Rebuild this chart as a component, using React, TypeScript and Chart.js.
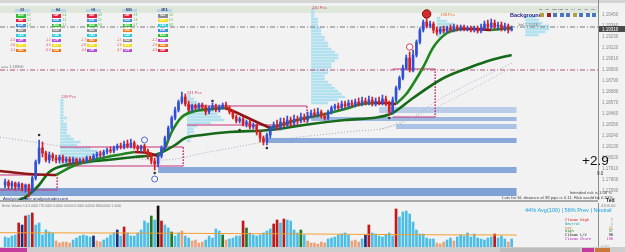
import React, { useEffect, useRef } from "react";
import { Chart, registerables } from "chart.js";

Chart.register(...registerables);

// ---------------- DATA ----------------
const opens = [
  1.1775, 1.1778, 1.1774, 1.1777, 1.1773, 1.1776, 1.1772, 1.1775, 1.1769, 1.1782,
  1.1798, 1.1812, 1.1807, 1.18, 1.1805, 1.1802, 1.18, 1.1803, 1.1799, 1.1801,
  1.1798, 1.1801, 1.1798, 1.18, 1.1799, 1.1802, 1.1801, 1.1804, 1.1806, 1.1805,
  1.1808, 1.181, 1.1809, 1.1812, 1.1814, 1.1813, 1.1816, 1.1814, 1.1817, 1.1813,
  1.1811, 1.1814, 1.1809, 1.1804, 1.1799, 1.1796, 1.1804, 1.1812, 1.1822, 1.1832,
  1.1842, 1.185, 1.1858, 1.1863, 1.1856, 1.185, 1.1854, 1.1852, 1.1855, 1.1853,
  1.1848, 1.1852, 1.1854, 1.185, 1.1853, 1.1855, 1.1852, 1.1848, 1.1843, 1.1839,
  1.1841, 1.1836, 1.1838, 1.1833, 1.1835, 1.1828, 1.1822, 1.1818, 1.1825, 1.1832,
  1.1835, 1.1832, 1.1838, 1.1835, 1.184, 1.1837, 1.1841, 1.1839, 1.1843, 1.184,
  1.1844, 1.1847, 1.1845, 1.1848, 1.1844, 1.1842, 1.1848, 1.1852, 1.1854, 1.1852,
  1.1856, 1.1854, 1.1857, 1.1855, 1.1858, 1.1856, 1.1859, 1.1857, 1.186, 1.1856,
  1.1859, 1.1857, 1.1861, 1.1856, 1.1848, 1.186, 1.1872, 1.1882, 1.1892, 1.1902,
  1.189, 1.1905, 1.1918, 1.193, 1.1938, 1.1934, 1.1936, 1.193, 1.1928, 1.1931,
  1.1929, 1.1932, 1.193, 1.1933, 1.1931, 1.1933, 1.1931, 1.1932, 1.193, 1.1932,
  1.1929, 1.1932, 1.1936, 1.1933, 1.1937, 1.1933, 1.1935, 1.1931, 1.1934, 1.193,
];
const closes = [
  1.1778, 1.1774, 1.1777, 1.1773, 1.1776, 1.1772, 1.1775, 1.1769, 1.1782, 1.1798,
  1.1812, 1.1807, 1.18, 1.1805, 1.1802, 1.18, 1.1803, 1.1799, 1.1801, 1.1798,
  1.1801, 1.1798, 1.18, 1.1799, 1.1802, 1.1801, 1.1804, 1.1806, 1.1805, 1.1808,
  1.181, 1.1809, 1.1812, 1.1814, 1.1813, 1.1816, 1.1814, 1.1817, 1.1813, 1.1811,
  1.1814, 1.1809, 1.1804, 1.1799, 1.1796, 1.1804, 1.1812, 1.1822, 1.1832, 1.1842,
  1.185, 1.1858, 1.1863, 1.1856, 1.185, 1.1854, 1.1852, 1.1855, 1.1853, 1.1848,
  1.1852, 1.1854, 1.185, 1.1853, 1.1855, 1.1852, 1.1848, 1.1843, 1.1839, 1.1841,
  1.1836, 1.1838, 1.1833, 1.1835, 1.1828, 1.1822, 1.1818, 1.1825, 1.1832, 1.1835,
  1.1832, 1.1838, 1.1835, 1.184, 1.1837, 1.1841, 1.1839, 1.1843, 1.184, 1.1844,
  1.1847, 1.1845, 1.1848, 1.1844, 1.1842, 1.1848, 1.1852, 1.1854, 1.1852, 1.1856,
  1.1854, 1.1857, 1.1855, 1.1858, 1.1856, 1.1859, 1.1857, 1.186, 1.1856, 1.1859,
  1.1857, 1.1861, 1.1856, 1.1848, 1.186, 1.1872, 1.1882, 1.1892, 1.1902, 1.189,
  1.1905, 1.1918, 1.193, 1.1938, 1.1934, 1.1936, 1.193, 1.1928, 1.1931, 1.1929,
  1.1932, 1.193, 1.1933, 1.1931, 1.1933, 1.1931, 1.1932, 1.193, 1.1932, 1.1929,
  1.1932, 1.1936, 1.1933, 1.1937, 1.1933, 1.1935, 1.1931, 1.1934, 1.193, 1.1931,
];
const highs = [
  1.1781, 1.178, 1.1779, 1.1778, 1.1778, 1.1777, 1.1776, 1.1776, 1.1784, 1.18,
  1.182, 1.1818, 1.1809, 1.1808, 1.1807, 1.1805, 1.1805, 1.1805, 1.1803, 1.1803,
  1.1803, 1.1802, 1.1802, 1.1802, 1.1804, 1.1804, 1.1806, 1.1808, 1.1809, 1.181,
  1.1812, 1.1813, 1.1814, 1.1816, 1.1817, 1.1819, 1.182, 1.1821, 1.1819, 1.1815,
  1.1815, 1.1816, 1.1811, 1.1807, 1.1802, 1.1807, 1.1814, 1.1824, 1.1834, 1.1844,
  1.1853, 1.186, 1.1868, 1.1866, 1.1859, 1.1856, 1.1856, 1.1857, 1.1857, 1.1855,
  1.1854, 1.1857, 1.1856, 1.1855, 1.1857, 1.1858, 1.1854, 1.185, 1.1845, 1.1843,
  1.1843, 1.184, 1.184, 1.1837, 1.1836, 1.183, 1.1824, 1.1827, 1.1834, 1.1838,
  1.184, 1.1842, 1.1842, 1.1844, 1.1843, 1.1845, 1.1844, 1.1847, 1.1846, 1.1848,
  1.185, 1.1851, 1.1852, 1.185, 1.1847, 1.185, 1.1854, 1.1856, 1.1857, 1.1859,
  1.1859, 1.186, 1.186, 1.1861, 1.1862, 1.1863, 1.1862, 1.1864, 1.1863, 1.1862,
  1.1863, 1.1865, 1.1864, 1.1859, 1.1863, 1.1874, 1.1884, 1.1895, 1.1905, 1.1908,
  1.191, 1.192, 1.1932, 1.194, 1.1941, 1.1939, 1.1938, 1.1933, 1.1933, 1.1934,
  1.1934, 1.1935, 1.1936, 1.1935, 1.1935, 1.1935, 1.1934, 1.1934, 1.1934, 1.1934,
  1.1936, 1.1939, 1.194, 1.1941, 1.194, 1.1938, 1.1938, 1.1937, 1.1936, 1.1934,
];
const lows = [
  1.1772, 1.1771, 1.1771, 1.177, 1.1771, 1.1769, 1.1768, 1.1763, 1.1767, 1.178,
  1.1796, 1.1803, 1.1798, 1.1797, 1.1799, 1.1797, 1.1797, 1.1797, 1.1797, 1.1795,
  1.1796, 1.1795, 1.1796, 1.1797, 1.1797, 1.1799, 1.1799, 1.1802, 1.1803, 1.1803,
  1.1806, 1.1807, 1.1807, 1.181, 1.1811, 1.1811, 1.1812, 1.1812, 1.1811, 1.1808,
  1.1808, 1.1807, 1.1801, 1.1796, 1.179, 1.1793, 1.1802, 1.181, 1.182, 1.183,
  1.184, 1.1848, 1.1856, 1.1854, 1.1848, 1.1848, 1.185, 1.185, 1.1851, 1.1845,
  1.1846, 1.185, 1.1848, 1.1848, 1.1851, 1.185, 1.1846, 1.1841, 1.1837, 1.1837,
  1.1834, 1.1833, 1.1831, 1.1831, 1.1825, 1.1818, 1.1815, 1.1815, 1.1822, 1.183,
  1.183, 1.183, 1.1833, 1.1833, 1.1834, 1.1835, 1.1836, 1.1837, 1.1838, 1.1838,
  1.1842, 1.1843, 1.1843, 1.1842, 1.184, 1.184, 1.1846, 1.185, 1.185, 1.185,
  1.1852, 1.1852, 1.1853, 1.1853, 1.1854, 1.1854, 1.1855, 1.1855, 1.1854, 1.1854,
  1.1855, 1.1855, 1.1854, 1.1845, 1.1846, 1.1858, 1.187, 1.188, 1.189, 1.1888,
  1.1888, 1.1903, 1.1916, 1.1928, 1.1932, 1.1932, 1.1927, 1.1925, 1.1926, 1.1927,
  1.1927, 1.1928, 1.1928, 1.1929, 1.1929, 1.1929, 1.1929, 1.1928, 1.1928, 1.1927,
  1.1927, 1.193, 1.1931, 1.1931, 1.1931, 1.193, 1.1929, 1.1929, 1.1927, 1.1929,
];
const volumes = [
  1000, 900, 1100, 1200, 2400, 2200, 3100, 3200, 3400, 2200,
  2400, 1200, 1700, 1500, 1400, 600, 400, 500, 500, 400,
  700, 900, 1100, 1200, 1100, 1000, 1100, 600, 500, 700,
  900, 1200, 1400, 1700, 1100, 2000, 1400, 1100, 1100, 1400,
  1700, 2600, 2400, 3100, 2700, 4100, 2600, 2200, 1900, 1500,
  1100, 1400, 1600, 1100, 900, 600, 700, 400, 500, 700,
  1100, 900, 1800, 1600, 1200, 700, 800, 900, 1100, 1100,
  2600, 1900, 1400, 1200, 1100, 1200, 1400, 1600, 1800, 2300,
  2700, 2400, 2800, 2700, 2600, 1700, 1400, 1700, 1200, 600,
  400, 400, 300, 500, 400, 800, 900, 1000, 1200, 1300,
  1400, 1200, 600, 700, 500, 800, 1200, 2200, 1400, 1300,
  1100, 1000, 1200, 1400, 1100, 3800, 3000, 3500, 3600, 3300,
  2500, 1700, 1300, 1300, 900, 800, 800, 400, 300, 500,
  700, 900, 600, 1000, 1200, 1100, 1400, 1000, 1300, 900,
  800, 700, 900, 1000, 1300, 900, 1100, 800, 500, 800,
];
// N neutral, R climax high, L low, G high, K climax low-volume, B churn
const volumeClass = (
  "NNNNRBRNRN" + "NNNNNLLLLL" + "NNNNNNBLLN" + "NNNBNRNNNN" + "NNNGNKRNNG" +
  "NNLNNLLLLN" + "NNNNGLNNNN" + "RGNNNNNNNR" + "RNRNNNNGNL" + "LLLLLNNNNN" +
  "NNLLLNBRNN" + "NNNNNRNNNN" + "NNNNNNNLLL" + "NNLNNNNNNN" + "NNNNRNNNLN"
).split("");
const volumeAverage = [[-1.5, 1430], [45, 1380], [90, 1300], [120, 1230], [150.5, 1200]];

const priceTicks = [1.1945, 1.1934, 1.1923, 1.1912, 1.1901, 1.189, 1.1879, 1.1868, 1.1857,
  1.1846, 1.1835, 1.1824, 1.1813, 1.1802, 1.1791, 1.178, 1.1769];
const volumeTicks = [0, 4100];

// moving averages, read at sample bars
const maSlow = [[4, 1.176], [6, 1.1763], [10, 1.1775], [13, 1.1788], [18, 1.1795], [24, 1.1798],
  [30, 1.18], [38, 1.1803], [45, 1.1806], [50, 1.1815], [53, 1.1822], [58, 1.1825], [66, 1.1828],
  [78, 1.183], [90, 1.1836], [100, 1.184], [110, 1.1843], [114, 1.1847], [120, 1.1862],
  [129, 1.1882], [137, 1.1893], [143, 1.19], [149, 1.1905]];
const maFastRising = [
  [[15, 1.1785], [20, 1.1794], [26, 1.18], [33, 1.1805], [38, 1.1808]],
  [[45, 1.1804], [47, 1.1812], [49, 1.1828], [52, 1.1843], [56, 1.1849], [61, 1.1851], [65, 1.1852]],
  [[78, 1.1832], [81, 1.1835], [87, 1.1841], [93, 1.1845], [100, 1.1851], [105, 1.1856], [109, 1.1857]],
  [[115, 1.1856], [118, 1.1866], [120, 1.1876], [123, 1.1893], [126, 1.1913], [130, 1.1927], [134, 1.1931]],
  [[143, 1.193], [149, 1.1932]],
];
const maFastFalling = [
  [[-1.5, 1.1789], [7, 1.1786], [15, 1.1785]],
  [[38, 1.1808], [42, 1.1807], [45, 1.1804]],
  [[65, 1.1852], [69, 1.1846], [74, 1.1838], [78, 1.1832]],
  [[109, 1.1857], [112, 1.1857], [115, 1.1856]],
  [[134, 1.1931], [138, 1.1931], [143, 1.193]],
];
const envelopeA = [[-1.5, 1.1823], [20, 1.1812], [45, 1.18], [60, 1.1808], [80, 1.182],
  [100, 1.1828], [115, 1.1835], [130, 1.1865], [149, 1.1897]];
const envelopeB = [[110, 1.183], [125, 1.185], [149, 1.1892]];

// supply/demand zones
const zoneFrom = [110, 90, 115, 77, 45, -1.5];
const zoneTo = [150.5, 150.5, 150.5, 150.5, 150.5, 150.5];
const zoneHigh = [1.1853, 1.1843, 1.1836, 1.1822, 1.1793, 1.1772];
const zoneLow = [1.1847, 1.1839, 1.1831, 1.1817, 1.1787, 1.1764];

// range boxes
const boxFrom = [-1.5, 16.2, 53.5, 114];
const boxTo = [15.3, 52.4, 88.8, 126.5];
const boxTop = [1.1785, 1.1813, 1.1854, 1.1891];
const boxBottom = [1.177, 1.1794, 1.1835, 1.1843];

// horizontal levels
const levelPrices = [1.189, 1.1933];

// market profiles (bars per price bin)
const profileStart = [16.2, 53.5, 90, 127, 153];
const profileTop = [1.186, 1.1864, 1.195, 1.1942, 1.1943];
const profileCounts = [
  [1, 1, 1, 1, 1, 1, 2, 1, 2, 2, 2, 2, 3, 4, 6, 5, 9, 11, 12, 12, 11, 9, 4],
  [1, 2, 3, 5, 7, 8, 9, 10, 11, 7, 3, 2, 2, 1, 1, 1],
  [1, 1, 1, 2, 2, 2, 3, 3, 3, 4, 4, 5, 5, 6, 7, 8, 8, 7, 6, 6, 5, 5, 4, 4, 5, 6, 7, 8, 9, 10, 8, 5],
  [1, 3, 5, 6, 5, 3, 1],
  [3, 4, 5, 7, 7, 6, 4],
];
const PROFILE_BIN = 0.0003;

// markers
const fractalAt = [6, 10, 44, 61, 69, 77, 113];
const fractalPrice = [1.1762, 1.1825, 1.1787, 1.1859, 1.183, 1.1812, 1.1842];
const signalAt = [41, 44, 119, 124];
const signalPrice = [1.182, 1.1781, 1.1913, 1.1946];

// chart notes
const noteText = ["249 Pcs", "241 Pcs", "240 Pcs", "138 Pcs", "=== 1.18900", "bid 1.19330"];
const noteAt = [16.5, 53.5, 90.3, 128, -1.2, 151];
const notePrice = [1.1863, 1.1867, 1.1952, 1.1945, 1.1893, 1.1935];

// currency strength meter
const meterFrames = ["D1", "H4", "H1", "M30", "M15"];
const meterOrder = [
  ["AUD", "GBP", "EUR", "NZD", "CAD", "CHF", "JPY", "USD"],
  ["GBP", "EUR", "AUD", "NZD", "CAD", "CHF", "JPY", "USD"],
  ["GBP", "EUR", "AUD", "NZD", "CAD", "USD", "JPY", "CHF"],
  ["GBP", "EUR", "AUD", "USD", "CAD", "NZD", "JPY", "CHF"],
  ["NZD", "JPY", "CAD", "EUR", "AUD", "CHF", "USD", "GBP"],
];
const meterStrength = [
  [6.2, 3.1, 1.4, 0.2, -0.4, -1.8, -3.6, -5.1],
  [5.4, 2.2, 1.1, 0.3, -0.2, -1.5, -3.9, -6.0],
  [4.8, 2.5, 0.9, 0.1, -0.5, -1.7, -2.8, -4.4],
  [3.9, 1.6, 0.7, 0.2, -0.3, -1.1, -2.6, -3.7],
  [5.8, 1.9, 0.8, 0.3, -0.6, -1.2, -2.9, -6.3],
];
const bgFrames = ["M1", "M5", "M15", "M30", "H1", "H4", "D1", "W1", "MN"];
const bgState = ["n", "d", "u", "u", "u", "n", "u", "u", "u"];

const volStatsLabels = ["Climax High", "Neutral", "Low", "High", "Climax L/V", "Climax Churn"];
const volStatsCounts = [7, 1, 21, 37, 98, 136];

// ---------------- STYLE ----------------
const PRICE_MIN = 1.176;
const PRICE_MAX = 1.196;
const X_MIN = -1.5;
const X_MAX = 174.4;
const VOL_MAX = 4400;
const AXIS_W = 27;
const UP = "#2f4fd8";
const DOWN = "#d81e1e";
const ZONE_COLORS = ["#b9cde9", "#9db8df", "#aac2e5", "#87a8d8", "#87a8d8", "#7fa2d6"];
const VOL_COLORS: Record<string, string> = {
  N: "#4cbee6", R: "#c41818", L: "#e9a27c", G: "#237a23", K: "#111111", B: "#1c2c7c",
};
const CCY_COLORS: Record<string, string> = {
  AUD: "#2fbf2f", GBP: "#e2223e", EUR: "#3d8de2", NZD: "#8a8a8a",
  CAD: "#25cde0", CHF: "#b450d8", JPY: "#f0e020", USD: "#f07a1a",
};
const BG_COLORS: Record<string, string> = { n: "#b0a040", d: "#a02020", u: "#4a74c4" };
const STAT_COLORS = ["#d02020", "#1aa0b0", "#c07a20", "#208020", "#111111", "#c020c0"];
const FONT = "'Liberation Sans', Arial, sans-serif";

const pts = (pairs: number[][]) => pairs.map(([x, y]) => ({ x, y }));
const joinSegments = (segs: number[][][]) => {
  const out: any[] = [];
  segs.forEach((s, k) => {
    if (k) out.push({ x: s[0][0], y: null });
    s.forEach(([x, y]) => out.push({ x, y }));
  });
  return out;
};

const xAxis = { type: "linear", min: X_MIN, max: X_MAX, display: false, offset: false };

const fitRightAxis = (s: any) => {
  s.width = AXIS_W;
  s.paddingTop = 0;
  s.paddingBottom = 0;
};

function mainConfig(): any {
  const idx = opens.map((_, i) => i);
  const candleColor = idx.map((i) => (closes[i] >= opens[i] ? UP : DOWN));
  const datasets: any[] = [];

  zoneFrom.forEach((_, k) => {
    datasets.push({
      type: "line",
      data: [{ x: zoneFrom[k], y: zoneHigh[k] }, { x: zoneTo[k], y: zoneHigh[k] }],
      fill: { value: zoneLow[k] },
      backgroundColor: ZONE_COLORS[k],
      borderWidth: 0,
      pointRadius: 0,
      order: 40,
    });
  });

  profileStart.forEach((start, k) => {
    const data: any[] = [];
    profileCounts[k].forEach((c, j) => {
      const p = profileTop[k] - j * PROFILE_BIN;
      data.push({ x: start, y: p }, { x: start + c, y: p }, { x: start + c, y: null });
    });
    datasets.push({
      type: "line", data, borderColor: "rgba(150,218,238,0.7)", borderWidth: 2.3,
      pointRadius: 0, spanGaps: false, order: 35,
    });
  });

  boxFrom.forEach((_, k) => {
    datasets.push({
      type: "line",
      data: [
        { x: boxFrom[k], y: boxTop[k] }, { x: boxTo[k], y: boxTop[k] },
        { x: boxTo[k], y: boxBottom[k] }, { x: boxFrom[k], y: boxBottom[k] },
      ],
      borderColor: "#c8307a", borderWidth: 1, pointRadius: 0,
      segment: { borderDash: (c: any) => (c.p0DataIndex === 1 ? [1, 2] : undefined) },
      order: 30,
    });
  });

  levelPrices.forEach((p, k) => {
    datasets.push({
      type: "line",
      data: [{ x: X_MIN, y: p }, { x: X_MAX, y: p }],
      borderColor: k === 0 ? "#b0507a" : "#7a7a7a",
      borderWidth: 1, borderDash: [5, 2, 1, 2], pointRadius: 0, order: 29,
    });
  });

  datasets.push({
    type: "line", data: pts(envelopeA), borderColor: "#a8a8b8", borderWidth: 1,
    borderDash: [1, 2], pointRadius: 0, tension: 0.4, order: 28,
  });
  datasets.push({
    type: "line", data: pts(envelopeB), borderColor: "#b8b8c8", borderWidth: 1,
    borderDash: [1, 2], pointRadius: 0, tension: 0.4, order: 28,
  });

  datasets.push({
    type: "line", data: pts(maSlow), borderColor: "#17691a", borderWidth: 2.6,
    pointRadius: 0, cubicInterpolationMode: "monotone", order: 6,
  });
  datasets.push({
    type: "line", data: joinSegments(maFastRising), borderColor: "#1f861f", borderWidth: 2.6,
    pointRadius: 0, cubicInterpolationMode: "monotone", spanGaps: false, order: 5,
  });
  datasets.push({
    type: "line", data: joinSegments(maFastFalling), borderColor: "#8e1616", borderWidth: 2.6,
    pointRadius: 0, cubicInterpolationMode: "monotone", spanGaps: false, order: 5,
  });

  datasets.push({
    type: "bar", data: idx.map((i) => ({ x: i, y: [lows[i], highs[i]] })),
    backgroundColor: candleColor, barThickness: 1, grouped: false, order: 4,
  });
  datasets.push({
    type: "bar", data: idx.map((i) => ({ x: i, y: [opens[i], closes[i]] })),
    backgroundColor: candleColor, barThickness: 2, grouped: false, order: 3,
  });

  datasets.push({
    type: "line", showLine: false,
    data: fractalAt.map((x, k) => ({ x, y: fractalPrice[k] })),
    pointRadius: 1.3, pointBackgroundColor: "#333", pointBorderWidth: 0, order: 2,
  });
  datasets.push({
    type: "line", showLine: false,
    data: signalAt.map((x, k) => ({ x, y: signalPrice[k] })),
    pointRadius: [3, 3, 3.2, 4.2],
    pointBackgroundColor: ["#f4f4f4", "#f4f4f4", "#ffffff", "#d42a2a"],
    pointBorderColor: ["#4a6ad0", "#4a6ad0", "#d04050", "#7a1010"],
    pointBorderWidth: 1, order: 1,
  });

  const notes = {
    id: "notes",
    afterDatasetsDraw(chart: any) {
      const { ctx, scales } = chart;
      ctx.save();
      ctx.textBaseline = "middle";
      noteText.forEach((t, k) => {
        ctx.font = `4px ${FONT}`;
        ctx.fillStyle = k < 3 ? "#d04060" : k === 3 ? "#e07020" : "#777";
        ctx.fillText(t, scales.x.getPixelForValue(noteAt[k]), scales.y.getPixelForValue(notePrice[k]));
      });
      ctx.restore();
    },
    afterDraw(chart: any) {
      const { ctx, scales, chartArea } = chart;
      const last = closes[closes.length - 1];
      const py = scales.y.getPixelForValue(last);
      ctx.save();
      ctx.fillStyle = "#4a4a4a";
      ctx.fillRect(chartArea.right + 1, py - 3, AXIS_W - 1, 6);
      ctx.fillStyle = "#fff";
      ctx.font = `4.5px ${FONT}`;
      ctx.textBaseline = "middle";
      ctx.fillText(last.toFixed(5), chartArea.right + 4, py + 0.3);
      ctx.restore();
    },
  };

  return {
    type: "bar",
    data: { datasets },
    plugins: [notes],
    options: {
      animation: false, responsive: false, maintainAspectRatio: false, events: [],
      layout: { padding: 0, autoPadding: false },
      plugins: { legend: { display: false }, tooltip: { enabled: false } },
      elements: { point: { radius: 0 } },
      scales: {
        x: xAxis,
        y: {
          position: "right", min: PRICE_MIN, max: PRICE_MAX, beginAtZero: false,
          grid: { display: false, drawTicks: false },
          border: { display: true, color: "#8c8c8c" },
          ticks: {
            font: { size: 4.5, family: FONT }, color: "#8a8a8a", padding: 4,
            callback: (v: number) => Number(v).toFixed(5),
          },
          afterBuildTicks: (s: any) => { s.ticks = priceTicks.map((value) => ({ value })); },
          afterFit: fitRightAxis,
        },
      },
    },
  };
}

function volumeConfig(): any {
  const idx = volumes.map((_, i) => i);
  return {
    type: "bar",
    data: {
      datasets: [
        {
          type: "line", data: pts(volumeAverage), borderColor: "#f0a030", borderWidth: 1,
          pointRadius: 0, tension: 0.3, order: 1,
        },
        {
          type: "bar", data: idx.map((i) => ({ x: i, y: volumes[i] })),
          backgroundColor: idx.map((i) => VOL_COLORS[volumeClass[i]]),
          barThickness: 2, grouped: false, order: 2,
        },
      ],
    },
    options: {
      animation: false, responsive: false, maintainAspectRatio: false, events: [],
      layout: { padding: { top: 1, bottom: 0, left: 0, right: 0 }, autoPadding: false },
      plugins: { legend: { display: false }, tooltip: { enabled: false } },
      scales: {
        x: xAxis,
        y: {
          position: "right", min: 0, max: VOL_MAX, beginAtZero: true,
          grid: { display: false, drawTicks: false },
          border: { display: true, color: "#8c8c8c" },
          ticks: { font: { size: 4, family: FONT }, color: "#8a8a8a", padding: 3,
            callback: (v: number) => Number(v).toFixed(2) },
          afterBuildTicks: (s: any) => { s.ticks = volumeTicks.map((value) => ({ value })); },
          afterFit: fitRightAxis,
        },
      },
    },
  };
}

const abs = (o: React.CSSProperties): React.CSSProperties => ({ position: "absolute", ...o });

export default function App() {
  const mainRef = useRef<HTMLCanvasElement>(null);
  const volRef = useRef<HTMLCanvasElement>(null);

  useEffect(() => {
    document.body.style.margin = "0";
    const m = new Chart(mainRef.current as HTMLCanvasElement, mainConfig());
    const v = new Chart(volRef.current as HTMLCanvasElement, volumeConfig());
    return () => { m.destroy(); v.destroy(); };
  }, []);

  return (
    <div style={{ position: "relative", width: 625, height: 252, overflow: "hidden",
      background: "#f2f2f2", fontFamily: FONT }}>
      <style>{`body{margin:0}`}</style>
      <div style={abs({ left: 0, top: 0, width: 625, height: 3, background: "#d5d5d5" })} />
      <div style={abs({ left: 0, top: 6, width: 598, height: 7, background: "#dfe7da" })} />

      <canvas ref={mainRef} width={625} height={200} style={abs({ left: 0, top: 0, zIndex: 1 })} />
      <div style={abs({ left: 0, top: 200, width: 598, height: 2, background: "#a8a8a8", zIndex: 2 })} />
      <canvas ref={volRef} width={625} height={45} style={abs({ left: 0, top: 202, zIndex: 1 })} />
      <div style={abs({ left: 0, top: 247, width: 625, height: 5, background: "#cdcdcd", zIndex: 2 })}>
        <div style={abs({ left: 0, top: 1, width: 27, height: 4, background: "#c23a9c" })} />
        <div style={abs({ left: 500, top: 1, width: 80, height: 4, background: "#bdbdbd" })} />
        <div style={abs({ left: 582, top: 1, width: 12, height: 4, background: "#c23a9c" })} />
        <div style={abs({ left: 595, top: 1, width: 15, height: 4, background: "#c8783a" })} />
      </div>

      {/* currency strength meter */}
      <div style={abs({ left: 0, top: 0, zIndex: 3 })}>
        {meterFrames.map((f, c) => (
          <React.Fragment key={f}>
            <div style={abs({ left: 15 + c * 35.5, top: 8.5, width: 15, height: 3.5,
              background: "#b8d4e8", fontSize: 3, lineHeight: "3.5px", textAlign: "center",
              color: "#203060", fontWeight: "bold" })}>{f}</div>
            {meterOrder[c].map((ccy, r) => {
              const s = meterStrength[c][r];
              return (
                <React.Fragment key={ccy + r}>
                  <div style={abs({ left: 16 + c * 35.5, top: 14 + r * 4.95, width: 9.5, height: 3.5,
                    background: CCY_COLORS[ccy], fontSize: 2.6, lineHeight: "3.5px",
                    textAlign: "center", color: "#fff", fontWeight: "bold" })}>{ccy}</div>
                  {s > 0.5 && (
                    <div style={abs({ left: 27 + c * 35.5, top: 14 + r * 4.95, fontSize: 2.8,
                      lineHeight: "3.5px", color: "#3cb83c" })}>{s.toFixed(1)}</div>
                  )}
                  {s < -1 && (
                    <div style={abs({ left: 6 + c * 35.5, top: 14 + r * 4.95, width: 9, fontSize: 2.8,
                      lineHeight: "3.5px", color: "#e04848", textAlign: "right" })}>{s.toFixed(1)}</div>
                  )}
                </React.Fragment>
              );
            })}
          </React.Fragment>
        ))}
      </div>

      {/* background legend */}
      <div style={abs({ left: 510, top: 11.5, fontSize: 5.5, fontWeight: "bold", color: "#22228a",
        zIndex: 3, lineHeight: "6px" })}>Background</div>
      {bgFrames.map((f, k) => (
        <React.Fragment key={f}>
          <div style={abs({ left: 539 + k * 6.5, top: 7.5, fontSize: 2.4, color: "#22228a",
            zIndex: 3, lineHeight: "3px" })}>{f}</div>
          <div style={abs({ left: 540 + k * 6.5, top: 12.5, width: 4, height: 4,
            background: BG_COLORS[bgState[k]], zIndex: 3 })} />
        </React.Fragment>
      ))}

      {/* risk panel */}
      <div style={abs({ left: 582, top: 153, fontSize: 13.5, color: "#111", zIndex: 3, lineHeight: "15px" })}>+2.9</div>
      <div style={abs({ left: 597, top: 171, fontSize: 4.5, color: "#333", zIndex: 3 })}>0.0</div>
      <div style={abs({ right: 13, top: 190, fontSize: 4.2, color: "#444", zIndex: 3, whiteSpace: "nowrap" })}>
        Intended risk is 1.08 %</div>
      <div style={abs({ right: 12, top: 195, fontSize: 4.2, color: "#444", zIndex: 3, whiteSpace: "nowrap" })}>
        Lots for SL distance of 38 pips is 0.11. Risk would be 0.92%</div>
      <div style={abs({ left: 606, top: 197, fontSize: 5, fontWeight: "bold", color: "#222", zIndex: 3 })}>Ted</div>
      <div style={abs({ left: 3, top: 195.5, fontSize: 4.2, color: "#1f2f80", zIndex: 3, whiteSpace: "nowrap" })}>
        Analysis Trader analysistrader.com</div>

      {/* volume panel texts */}
      <div style={abs({ left: 2, top: 203.5, fontSize: 3.2, color: "#777", zIndex: 3, whiteSpace: "nowrap" })}>
        Better Volume 1.4 0.0000 735.0000 0.0000 0.0000 0.0000 0.0000 1860.0000 1.0000</div>
      <div style={abs({ left: 525, top: 207, fontSize: 5.6, color: "#1aa0e0", zIndex: 3, whiteSpace: "nowrap" })}>
        44% Avg(100) | 56% Prev | Neutral</div>
      {volStatsLabels.map((l, k) => (
        <React.Fragment key={l}>
          <div style={abs({ left: 565, top: 218 + k * 3.8, fontSize: 3.6, color: STAT_COLORS[k],
            fontFamily: "'DejaVu Sans Mono', monospace", zIndex: 3, lineHeight: "4px", whiteSpace: "nowrap" })}>{l}</div>
          <div style={abs({ left: 600, top: 218 + k * 3.8, width: 13, fontSize: 3.6, color: STAT_COLORS[k],
            textAlign: "right", fontFamily: "'DejaVu Sans Mono', monospace", zIndex: 3, lineHeight: "4px" })}>
            {volStatsCounts[k]}</div>
        </React.Fragment>
      ))}
    </div>
  );
}
